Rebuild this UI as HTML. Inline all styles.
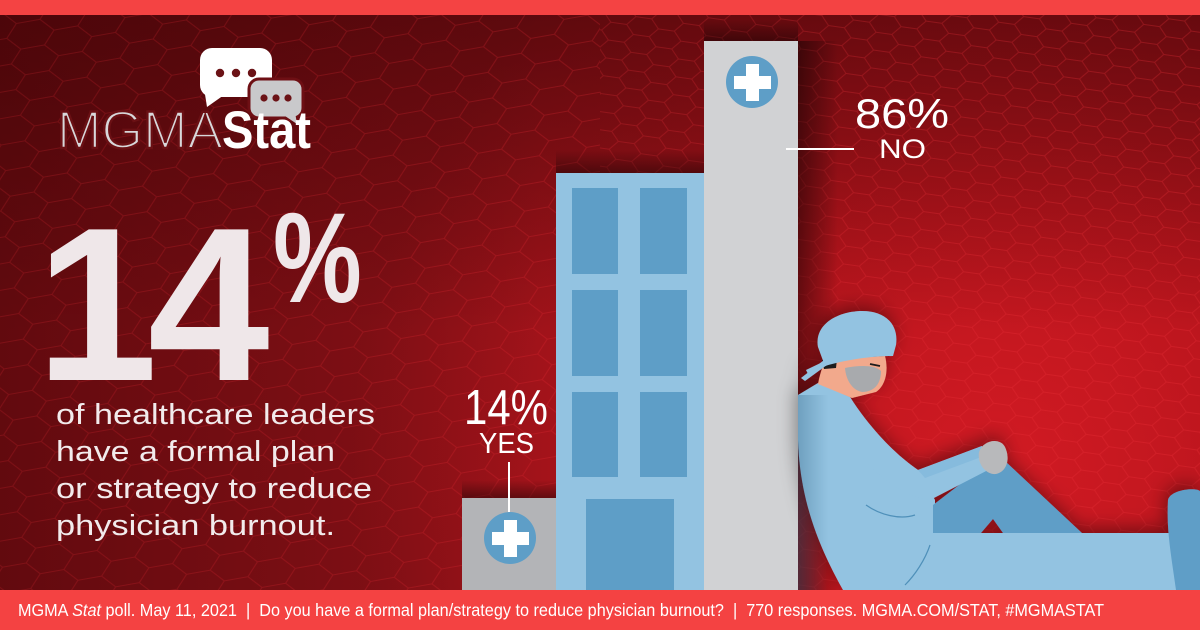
<!DOCTYPE html>
<html>
<head>
<meta charset="utf-8">
<style>
  html,body{margin:0;padding:0;background:#8e1218;}
  body{width:1200px;height:630px;overflow:hidden;}
  svg{display:block;}
  text{font-family:"Liberation Sans", Arial, sans-serif;}
</style>
</head>
<body>
<svg width="1200" height="630" viewBox="0 0 1200 630" xmlns="http://www.w3.org/2000/svg">
  <defs>
    <radialGradient id="glow" cx="1000" cy="470" r="650" gradientUnits="userSpaceOnUse">
      <stop offset="0" stop-color="#d81b24"/>
      <stop offset="0.45" stop-color="#bc151d"/>
      <stop offset="1" stop-color="#bc151d" stop-opacity="0"/>
    </radialGradient>
    <linearGradient id="topdark" x1="0" y1="0" x2="0" y2="1">
      <stop offset="0" stop-color="#3a0306" stop-opacity="0.55"/>
      <stop offset="0.55" stop-color="#3a0306" stop-opacity="0"/>
    </linearGradient>
    <linearGradient id="leftdark" x1="0" y1="0" x2="1" y2="0">
      <stop offset="0" stop-color="#3a0306" stop-opacity="0.5"/>
      <stop offset="0.45" stop-color="#3a0306" stop-opacity="0"/>
    </linearGradient>
    <pattern id="hex" width="72" height="26" patternUnits="userSpaceOnUse" patternTransform="rotate(-10)">
      <path d="M0,13 L12,0 L36,0 L48,13 L36,26 L12,26 Z M48,13 L72,13" fill="none" stroke="#ef2f39" stroke-width="1.1"/>
    </pattern>
    <pattern id="hex2" width="48" height="18" patternUnits="userSpaceOnUse" patternTransform="rotate(8)">
      <path d="M0,9 L8,0 L24,0 L32,9 L24,18 L8,18 Z M32,9 L48,9" fill="none" stroke="#f0343d" stroke-width="1"/>
    </pattern>
    <linearGradient id="fadeR" x1="0" y1="0" x2="1" y2="0">
      <stop offset="0" stop-color="#fff" stop-opacity="0.2"/>
      <stop offset="1" stop-color="#fff" stop-opacity="0.3"/>
    </linearGradient>
    <mask id="mL"><rect x="0" y="15" width="1200" height="575" fill="url(#fadeR)"/></mask>
    <linearGradient id="shadowR" x1="0" y1="0" x2="1" y2="0">
      <stop offset="0" stop-color="#000" stop-opacity="0.45"/>
      <stop offset="1" stop-color="#000" stop-opacity="0"/>
    </linearGradient>
    <linearGradient id="shadowT" x1="0" y1="1" x2="0" y2="0">
      <stop offset="0" stop-color="#000" stop-opacity="0.4"/>
      <stop offset="1" stop-color="#000" stop-opacity="0"/>
    </linearGradient>
    <linearGradient id="bodyShade" x1="0" y1="0" x2="1" y2="0">
      <stop offset="0" stop-color="#2c5f80" stop-opacity="0.35"/>
      <stop offset="1" stop-color="#2c5f80" stop-opacity="0"/>
    </linearGradient>
    <filter id="ds" x="-20%" y="-20%" width="140%" height="140%">
      <feDropShadow dx="-2" dy="-5" stdDeviation="9" flood-color="#000" flood-opacity="0.4"/>
    </filter>
  </defs>

  <!-- background -->
  <rect x="0" y="0" width="1200" height="630" fill="#8a1117"/>
  <rect x="0" y="15" width="1200" height="575" fill="url(#glow)" opacity="0.92"/>
  <rect x="0" y="15" width="1200" height="575" fill="url(#topdark)"/>
  <rect x="0" y="15" width="1200" height="575" fill="url(#leftdark)"/>
  <g mask="url(#mL)">
    <rect x="0" y="15" width="600" height="575" fill="url(#hex)"/>
    <rect x="600" y="15" width="600" height="575" fill="url(#hex2)"/>
  </g>

  <!-- top bar -->
  <rect x="0" y="0" width="1200" height="15" fill="#f44343"/>

  <!-- logo bubbles -->
  <rect x="200" y="48" width="72" height="49" rx="12" fill="#ffffff"/>
  <path d="M204,88 L207,107 L224,95 Z" fill="#ffffff"/>
  <circle cx="220" cy="73" r="4.2" fill="#6b1216"/>
  <circle cx="236" cy="73" r="4.2" fill="#6b1216"/>
  <circle cx="252" cy="73" r="4.2" fill="#6b1216"/>
  <rect x="249" y="79" width="54" height="39" rx="10" fill="#c9c9cb" stroke="#6e0f14" stroke-width="3"/>
  <path d="M285,116 L297,124 L295,112 Z" fill="#c9c9cb"/>
  <circle cx="264" cy="98" r="3.6" fill="#6b1216"/>
  <circle cx="276" cy="98" r="3.6" fill="#6b1216"/>
  <circle cx="288" cy="98" r="3.6" fill="#6b1216"/>

  <!-- logo text -->
  <text x="57" y="148" font-size="53" fill="#d8d8da" stroke="#6a1014" stroke-width="2.4" textLength="166" lengthAdjust="spacingAndGlyphs">MGMA</text>
  <text x="222" y="148" font-size="53" font-weight="bold" fill="#ffffff" textLength="89" lengthAdjust="spacingAndGlyphs">Stat</text>

  <!-- big 14% -->
  <text x="36" y="380" font-size="219" font-weight="bold" fill="#efe7e9" letter-spacing="-10">14</text>
  <text transform="translate(273,302) scale(0.78,1)" font-size="128" font-weight="bold" fill="#efe7e9">%</text>

  <!-- description -->
  <g font-size="29" fill="#f2ebec">
    <text x="56" y="424" textLength="319" lengthAdjust="spacingAndGlyphs">of healthcare leaders</text>
    <text x="56" y="461" textLength="279" lengthAdjust="spacingAndGlyphs">have a formal plan</text>
    <text x="56" y="498" textLength="316" lengthAdjust="spacingAndGlyphs">or strategy to reduce</text>
    <text x="56" y="535" textLength="279" lengthAdjust="spacingAndGlyphs">physician burnout.</text>
  </g>

  <!-- building shadows -->
  <rect x="798" y="41" width="40" height="549" fill="url(#shadowR)"/>
  <rect x="556" y="150" width="148" height="23" fill="url(#shadowT)"/>
  <rect x="462" y="480" width="94" height="18" fill="url(#shadowT)"/>
  <rect x="704" y="20" width="94" height="21" fill="url(#shadowT)"/>

  <!-- small gray building -->
  <rect x="462" y="498" width="94" height="92" fill="#b3b4b7"/>
  <circle cx="510" cy="538" r="26" fill="#5e9ec7"/>
  <rect x="504" y="520" width="13" height="37" fill="#ffffff"/>
  <rect x="492" y="532" width="37" height="13" fill="#ffffff"/>

  <!-- blue building -->
  <rect x="556" y="173" width="148" height="417" fill="#93c3e1"/>
  <g fill="#5e9ec7">
    <rect x="572" y="188" width="46" height="86"/>
    <rect x="640" y="188" width="47" height="86"/>
    <rect x="572" y="290" width="46" height="86"/>
    <rect x="640" y="290" width="47" height="86"/>
    <rect x="572" y="392" width="46" height="85"/>
    <rect x="640" y="392" width="47" height="85"/>
    <rect x="586" y="499" width="88" height="91"/>
  </g>

  <!-- tall gray building -->
  <rect x="704" y="41" width="94" height="549" fill="#d1d2d4"/>
  <circle cx="752" cy="82" r="26" fill="#5e9ec7"/>
  <rect x="746" y="64" width="13" height="37" fill="#ffffff"/>
  <rect x="734" y="76" width="37" height="13" fill="#ffffff"/>

  <!-- callouts -->
  <text x="855" y="128" font-size="42" fill="#ffffff" textLength="94" lengthAdjust="spacingAndGlyphs">86%</text>
  <text x="879" y="158" font-size="26.5" fill="#ffffff" textLength="47" lengthAdjust="spacingAndGlyphs">NO</text>
  <rect x="786" y="148" width="68" height="2" fill="#ffffff"/>

  <text x="464" y="424" font-size="49" fill="#ffffff" textLength="84" lengthAdjust="spacingAndGlyphs">14%</text>
  <text x="479" y="453" font-size="29" fill="#ffffff" textLength="55" lengthAdjust="spacingAndGlyphs">YES</text>
  <rect x="508" y="462" width="2" height="50" fill="#ffffff"/>

  <!-- surgeon figure -->
  <g filter="url(#ds)">
    <!-- torso + outstretched leg -->
    <path d="M798,395 L818,383 L850,397 C866,424 890,452 918,470 L935,500 L935,533 L1186,533 C1192,560 1192,580 1188,590 L843,590 C818,545 800,500 798,440 Z" fill="#93c3e1"/>
    <!-- raised leg -->
    <path d="M933,505 L985,465 L1005,461 L1082,533 L1003,533 L993,519 L981,533 L933,533 Z" fill="#5e9ec7"/>
    <!-- arm -->
    <path d="M850,397 C868,425 892,452 918,470 L982,446 L992,468 L930,500 C900,496 868,470 850,440 Z" fill="#93c3e1"/>
    <path d="M918,470 L982,446 L984,456 L925,478 Z" fill="#86bbdd"/>
    <!-- hands -->
    <path d="M979,452 C983,440 1000,437 1005,447 C1011,460 1006,472 996,474 C986,475 977,464 979,452 Z" fill="#b8b9bb"/>
    <!-- foot -->
    <path d="M1168,500 C1170,490 1195,487 1200,491 L1200,590 L1176,590 C1172,560 1166,530 1168,500 Z" fill="#5e9ec7"/>
    <!-- neck/face -->
    <path d="M826,360 L885,356 C889,372 885,386 876,392 L852,398 L818,384 C820,374 822,367 826,360 Z" fill="#f2a98c"/>
    <!-- hair -->
    <path d="M822,360 L837,359 L836,368 L824,369 Z" fill="#1a1a1a"/>
    <!-- mask -->
    <path d="M845,368 C860,365 875,365 881,371 C881,384 874,392 862,392 C852,390 846,380 845,368 Z" fill="#a8aaad"/>
    <!-- eye -->
    <path d="M870,364 L880,366" stroke="#1a1a1a" stroke-width="1.8"/>
    <!-- cap -->
    <path d="M818,347 C814,323 840,311 862,311 C886,311 899,325 896,345 L893,356 C870,356 845,360 825,366 Z" fill="#93c3e1"/>
    <!-- ties -->
    <path d="M828,357 L801,378 L805,381 L831,362 Z" fill="#93c3e1"/>
    <path d="M829,359 L806,370 L808,374 L832,363 Z" fill="#93c3e1"/>
    <!-- detail lines -->
    <path d="M866,505 C880,515 900,520 915,515" stroke="#4f90b9" stroke-width="1.2" fill="none"/>
    <path d="M930,545 C925,560 915,575 905,585" stroke="#4f90b9" stroke-width="1.2" fill="none"/>
  </g>
  <rect x="798" y="395" width="30" height="195" fill="url(#bodyShade)"/>

  <!-- footer -->
  <rect x="0" y="590" width="1200" height="40" fill="#f44242"/>
  <text x="18" y="616" font-size="17.5" fill="#ffffff" textLength="1086" lengthAdjust="spacingAndGlyphs" xml:space="preserve">MGMA <tspan font-style="italic">Stat</tspan> poll. May 11, 2021  |  Do you have a formal plan/strategy to reduce physician burnout?  |  770 responses. MGMA.COM/STAT, #MGMASTAT</text>
</svg>
</body>
</html>
